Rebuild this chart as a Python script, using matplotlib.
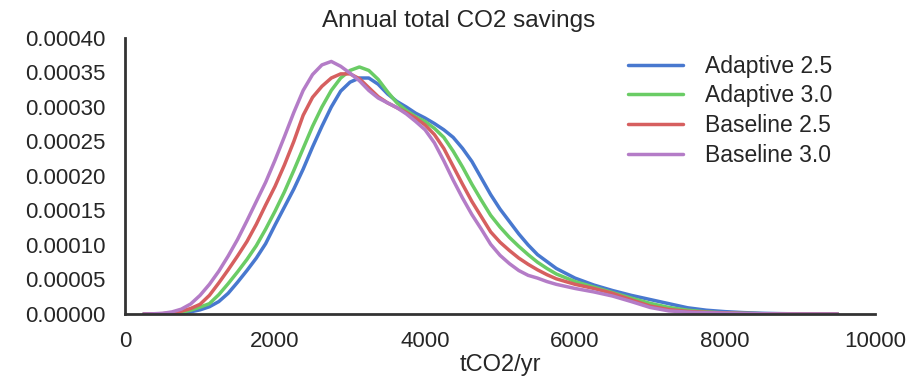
import numpy as np
import matplotlib
matplotlib.use("Agg")
import matplotlib.pyplot as plt
import seaborn as sns

# kde curves, density in units of 1e-5
x = [250, 375, 500, 625, 750, 875, 1000, 1125, 1250, 1375, 1500, 1625, 1750, 1875,
     2000, 2125, 2250, 2375, 2500, 2625, 2750, 2875, 3000, 3125, 3250, 3375, 3500,
     3625, 3750, 3875, 4000, 4125, 4250, 4375, 4500, 4625, 4750, 4875, 5000, 5125,
     5250, 5375, 5500, 5625, 5750,
     6000, 6250, 6500, 6750, 7000, 7250, 7500, 7750, 8000, 8250, 8500, 8750, 9000,
     9250, 9500]

adaptive_25 = [0, 0.005, 0.02, 0.07, 0.15, 0.32, 0.6, 1.05, 1.8, 3.0, 4.6, 6.3, 8.1, 10.2,
               12.9, 15.5, 18.1, 21.0, 24.2, 27.2, 30.0, 32.3, 33.6, 34.2, 34.2, 33.3, 31.9,
               30.8, 30.0, 29.1, 28.4, 27.6, 26.7, 25.6, 24.0, 22.1, 19.7, 17.3, 15.2, 13.4,
               11.6, 10.0, 8.6, 7.6, 6.6,
               5.2, 4.2, 3.4, 2.7, 2.1, 1.5, 0.9, 0.55, 0.34, 0.2, 0.1, 0.05, 0.02, 0, 0]
adaptive_30 = [0, 0.008, 0.03, 0.1, 0.25, 0.55, 1.0, 1.5, 2.8, 4.4, 6.1, 7.9, 9.9, 12.3,
               14.9, 17.7, 20.8, 24.0, 27.2, 30.0, 32.4, 34.2, 35.3, 35.8, 35.3, 34.0, 32.2,
               30.6, 29.5, 28.6, 27.9, 26.9, 25.6, 23.6, 21.3, 18.8, 16.5, 14.3, 12.6, 11.1,
               9.8, 8.6, 7.5, 6.6, 5.8,
               4.7, 3.9, 3.1, 2.3, 1.55, 0.95, 0.55, 0.3, 0.16, 0.09, 0.04, 0.02, 0, 0, 0]
baseline_25 = [0, 0.015, 0.05, 0.17, 0.4, 0.8, 1.4, 2.7, 4.5, 6.4, 8.4, 10.5, 13.0, 15.8,
               18.5, 21.6, 25.0, 28.8, 31.4, 33.0, 34.2, 34.8, 34.8, 34.1, 32.8, 31.5, 30.6,
               29.9, 29.2, 28.4, 27.4, 26.0, 24.0, 21.4, 18.8, 16.3, 14.1, 11.9, 10.4, 9.2,
               8.1, 7.2, 6.4, 5.7, 5.1,
               4.3, 3.7, 3.0, 2.05, 1.15, 0.65, 0.38, 0.24, 0.14, 0.08, 0.04, 0.01, 0, 0, 0]
baseline_30 = [0, 0.03, 0.1, 0.3, 0.7, 1.45, 2.7, 4.3, 6.2, 8.4, 10.8, 13.5, 16.3, 19.1,
               22.3, 25.7, 29.2, 32.4, 34.7, 36.1, 36.6, 35.9, 34.9, 33.8, 32.4, 31.3, 30.6,
               29.9, 29.0, 27.9, 26.7, 24.8, 22.2, 19.4, 16.8, 14.4, 12.3, 10.1, 8.5, 7.3,
               6.3, 5.6, 5.2, 4.7, 4.3,
               3.7, 3.2, 2.6, 1.8, 0.95, 0.45, 0.27, 0.18, 0.12, 0.06, 0.03, 0.01, 0, 0, 0]

labels = ["Adaptive 2.5", "Adaptive 3.0", "Baseline 2.5", "Baseline 3.0"]
colors = ["#4878CF", "#6ACC65", "#D65F5F", "#B47CC7"]

sns.set_style("white")
plt.rcParams['font.family'] = ['Liberation Sans', 'DejaVu Sans']
plt.rcParams['text.color'] = '.15'
plt.rcParams['axes.labelcolor'] = '.15'
plt.rcParams['xtick.color'] = '.15'
plt.rcParams['ytick.color'] = '.15'

fig = plt.figure(figsize=(9.14, 3.8), dpi=100)
ax = fig.add_axes([0.1368, 0.1737, 0.8206, 0.7263])

for ys, lab, c in zip([adaptive_25, adaptive_30, baseline_25, baseline_30], labels, colors):
    ax.plot(x, np.array(ys) * 1e-5, color=c, lw=2.5, label=lab,
            solid_joinstyle='round', solid_capstyle='round')

ax.set_xlim(0, 10000)
ax.set_ylim(0, 0.0004)
ax.set_xticks([0, 2000, 4000, 6000, 8000, 10000])
yt = np.arange(0, 0.00041, 0.00005)
ax.set_yticks(yt)
ax.set_yticklabels(["%.5f" % v for v in yt])
ax.tick_params(axis='x', length=0, pad=12, labelsize=16)
ax.tick_params(axis='y', length=0, pad=14, labelsize=16)

sns.despine(ax=ax)
for s in ['left', 'bottom']:
    ax.spines[s].set_color('.2')
    ax.spines[s].set_linewidth(2.0)

ax.set_xlabel("tCO2/yr", fontsize=17, labelpad=2)
ax.set_title("Annual total CO2 savings", fontsize=17.5, pad=8, x=0.445)

ax.legend(loc='upper left', bbox_to_anchor=(0.67, 0.94), frameon=False,
          fontsize=16.5, handlelength=2.44, handletextpad=0.95,
          labelspacing=0.3, borderpad=0, borderaxespad=0)

fig.savefig("out.png", dpi=100)
